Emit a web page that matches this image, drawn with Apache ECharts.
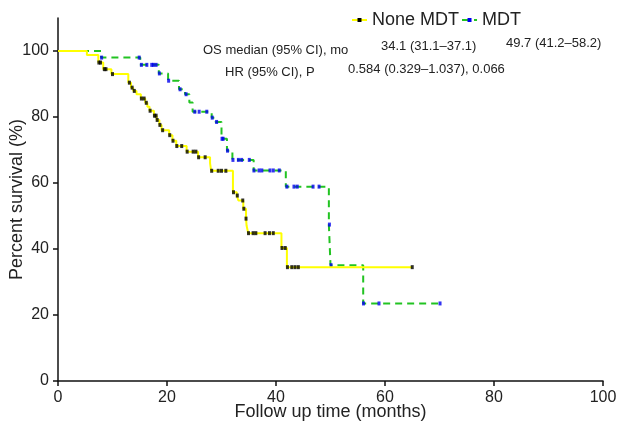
<!DOCTYPE html>
<html><head><meta charset="utf-8">
<script src="https://cdn.jsdelivr.net/npm/echarts@6/dist/echarts.min.js"></script>
<style>html,body{margin:0;padding:0;background:#fff}#c{width:621px;height:429px}</style>
</head><body><div id="c"></div>
<script>
// Kaplan-Meier step points [time (months), percent survival]
var noneSteps = [[0,100],[5.3,98.8],[7.4,96.5],[8.3,94.5],[9.8,93.0],[12.9,90.4],[13.4,88.9],[13.8,87.9],[14.4,86.9],[15.2,85.6],[16.0,84.3],[16.4,83.1],[16.8,81.9],[17.6,80.4],[18.1,79.1],[18.6,77.6],[19.0,76.0],[20.4,74.5],[21.0,72.8],[21.7,71.2],[23.6,69.5],[25.7,67.8],[27.9,66.0],[28.1,63.7],[32.1,57.2],[32.8,56.2],[33.1,54.7],[34.0,52.2],[34.5,49.2],[34.6,47.1],[34.9,44.8],[41.0,40.3],[42.0,34.5],[65.0,34.5]];
var mdtSteps = [[0,100],[7.9,98.0],[15.1,95.8],[18.5,93.2],[20.2,91.0],[22.2,88.4],[23.3,86.9],[24.1,84.4],[24.7,81.6],[28.2,79.8],[28.9,78.5],[30.0,73.4],[31.0,69.8],[32.0,67.0],[35.9,63.8],[41.8,58.9],[49.7,47.4],[50.0,35.1],[56.0,23.5],[70.1,23.5]];
// censored observation times (months)
var noneCensor = [7.5,7.8,8.5,8.8,10.0,13.1,13.6,14.0,15.3,15.8,16.2,16.9,17.7,18.0,18.2,18.7,19.2,20.5,21.1,21.8,22.7,23.7,24.8,25.3,25.8,27.0,28.2,29.4,30.0,30.8,32.2,32.9,33.9,34.1,34.5,34.95,35.8,36.3,38.0,38.8,39.5,41.1,41.7,42.1,42.9,43.5,44.1,65.0];
var mdtCensor = [8.0,14.9,15.3,16.3,17.2,17.5,18.0,18.6,20.3,22.4,23.5,25.1,25.9,27.3,28.3,29.1,30.1,30.3,31.1,32.1,33.1,33.7,35.1,35.95,36.9,37.4,38.9,39.5,40.6,42.0,43.3,43.9,46.8,47.9,49.8,50.1,56.05,58.9,70.1];
var seriesNames = ['None MDT','MDT'];
var xTicks = [0,20,40,60,80,100];
var yTicks = [0,20,40,60,80,100];
var annoLabels = ['OS median (95% CI), mo','HR (95% CI), P'];
var annoNone = ['34.1 (31.1\u201337.1)'];
var annoMdt = ['49.7 (41.2\u201358.2)'];
var annoHR = ['0.584 (0.329\u20131.037), 0.066'];

function survAt(steps, t){
  var v = steps[0][1];
  for (var i=0;i<steps.length;i++){ if (steps[i][0] <= t) v = steps[i][1]; }
  return v;
}
function censorPts(steps, times){ return times.map(function(t){ return [t, survAt(steps,t)]; }); }

var FONT = "'Liberation Sans', Arial, Helvetica, sans-serif";
var chart = echarts.init(document.getElementById('c'), null, {renderer:'canvas'});
chart.setOption({
  animation:false,
  backgroundColor:'#fff',
  grid:{left:58,right:18,top:18,bottom:48,containLabel:false,outerBoundsMode:'none'},
  legend:{
    data:seriesNames, left:346, top:5, itemWidth:15, itemHeight:5, itemGap:2,
    textStyle:{fontFamily:FONT,fontSize:18,color:'#222',lineHeight:20}
  },
  xAxis:{
    type:'value', min:0, max:100, interval:20,
    name:'Follow up time (months)', nameLocation:'middle', nameGap:22, nameMoveOverlap:false,
    nameTextStyle:{fontFamily:FONT,fontSize:18,color:'#222'},
    axisLine:{lineStyle:{color:'#111',width:1.5}},
    axisTick:{show:true,inside:false,length:5,lineStyle:{color:'#111',width:1.5}, customValues:xTicks},
    axisLabel:{fontFamily:FONT,fontSize:16,color:'#222',margin:9, customValues:xTicks},
    splitLine:{show:false}
  },
  yAxis:{
    type:'value', min:0, max:110,
    name:'Percent survival (%)', nameLocation:'middle', nameGap:32, nameMoveOverlap:false,
    nameTextStyle:{fontFamily:FONT,fontSize:18,color:'#222'},
    axisLine:{show:true,lineStyle:{color:'#111',width:1.5}},
    axisTick:{show:true,inside:false,length:5,lineStyle:{color:'#111',width:1.5}, customValues:yTicks},
    axisLabel:{fontFamily:FONT,fontSize:16,color:'#222',margin:9, customValues:yTicks},
    splitLine:{show:false}
  },
  series:[
    {name:seriesNames[1], type:'line', step:'end', data:mdtSteps, showSymbol:false, symbol:'rect', symbolSize:[3,4],
     itemStyle:{color:'#0000ee'}, lineStyle:{color:'#22c322',width:2,type:[7,5]}, z:2, silent:true},
    {name:seriesNames[1], type:'scatter', data:censorPts(mdtSteps,mdtCensor), symbol:'rect', symbolSize:[3,4],
     itemStyle:{color:'#0000ee'}, z:3, silent:true},
    {name:seriesNames[0], type:'line', step:'end', data:noneSteps, showSymbol:false, symbol:'rect', symbolSize:[3,4],
     itemStyle:{color:'#000'}, lineStyle:{color:'#ffff00',width:2}, z:4, silent:true},
    {name:seriesNames[0], type:'scatter', data:censorPts(noneSteps,noneCensor), symbol:'rect', symbolSize:[3,4],
     itemStyle:{color:'#000'}, z:5, silent:true}
  ],
  graphic:[
    {type:'text', x:203, y:50, style:{text:annoLabels[0], font:'13px '+FONT, fill:'#222', textAlign:'left', textVerticalAlign:'middle'}},
    {type:'text', x:225, y:72, style:{text:annoLabels[1], font:'13px '+FONT, fill:'#222', textAlign:'left', textVerticalAlign:'middle'}},
    {type:'text', x:381, y:46, style:{text:annoNone[0], font:'13px '+FONT, fill:'#222', textAlign:'left', textVerticalAlign:'middle'}},
    {type:'text', x:506, y:43, style:{text:annoMdt[0], font:'13px '+FONT, fill:'#222', textAlign:'left', textVerticalAlign:'middle'}},
    {type:'text', x:348, y:69, style:{text:annoHR[0], font:'13px '+FONT, fill:'#222', textAlign:'left', textVerticalAlign:'middle'}}
  ]
});
</script></body></html>
